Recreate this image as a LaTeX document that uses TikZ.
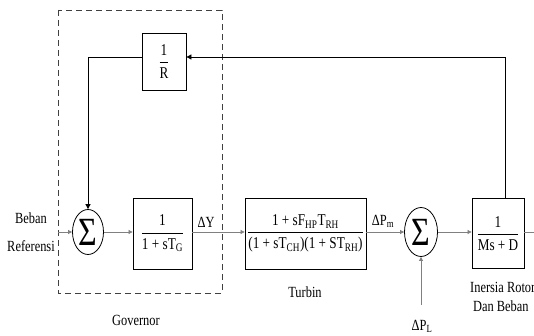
\documentclass[tikz,border=0pt]{standalone}
\usepackage{amsmath}
\usepackage{fontspec}
\setmainfont{Liberation Serif}[FakeStretch=0.8]
\usetikzlibrary{arrows.meta,shapes.geometric}
\tikzset{
  blk/.style={draw=black, line width=0.8pt, rectangle, inner sep=0pt, font=\fontsize{16.5}{18}\selectfont},
  sumn/.style={draw=black, line width=0.8pt, ellipse, inner sep=0pt, font=\fontsize{40}{40}\selectfont},
  sig/.style={draw=gray, line width=0.7pt, -{Triangle[length=4pt,width=4pt]}},
  fbk/.style={draw=black, line width=0.8pt},
  lbl/.style={font=\fontsize{15.5}{17}\selectfont, inner sep=0pt},
  govbox/.style={draw=black!75, line width=0.8pt, dash pattern=on 6pt off 4pt}
}
\newcommand{\frc}[2]{$\dfrac{\text{#1}}{\text{#2}}$}
\begin{document}
\begin{tikzpicture}[x=1pt,y=-1pt]
\useasboundingbox (0,0) rectangle (534,336);
\draw[govbox] (58,10) rectangle (222,293);
\node[blk, minimum width=44pt, minimum height=57pt] (R) at (164,61.5) {\frc{1}{R}};
\node[sumn, minimum width=31pt, minimum height=45pt] (s1) at (88,232) {Σ};
\node[blk, minimum width=59pt, minimum height=71pt] (g) at (162.5,233.5) {\frc{1}{1 + sT\textsubscript{G}}};
\node[blk, minimum width=121pt, minimum height=71pt] (t) at (305.5,233.5) {\frc{1 + sF\textsubscript{HP}T\textsubscript{RH}}{(1 + sT\textsubscript{CH})(1 + ST\textsubscript{RH})}};
\node[sumn, minimum width=33pt, minimum height=49pt] (s2) at (421,232) {Σ};
\node[blk, minimum width=52pt, minimum height=70pt] (m) at (498,233.5) {\frc{1}{Ms + D}};
\coordinate (in) at (58,232);
\coordinate (out) at (534,232);
\coordinate (fa) at (88,57);
\coordinate (fb) at (505,57);
\coordinate (pl) at (421,305);
\draw[sig] (in) -- (s1.west);
\draw[sig] (s1.east) -- (s1.east -| g.west);
\draw[sig] (g.east |- s1) -- (t.west |- s1);
\draw[sig] (t.east |- s2) -- (s2.west);
\draw[sig] (s2.east) -- (m.west |- s2);
\draw[sig, -] (m.east |- s2) -- (out);
\draw[sig] (pl) -- (s2.south);
\draw[fbk, -{Triangle[length=5pt,width=5pt]}] (fb |- m.north) -- (fb) -- (R.east |- fb);
\draw[fbk, -{Triangle[length=5pt,width=5pt]}] (R.west |- fa) -- (fa) -- (s1.north);
\node[lbl] (beban) at (31,218) {Beban};
\node[lbl] (ref) at (31,246) {Referensi};
\node[lbl] (dy) at (206,222) {ΔY};
\node[lbl] (dpm) at (383,221) {ΔP\textsubscript{m}};
\node[lbl] (turb) at (305,292) {Turbin};
\node[lbl] (gov) at (136,320) {Governor};
\node[lbl, anchor=west] (ir) at (470,287) {Inersia Rotor};
\node[lbl, anchor=west] (db) at (473,306) {Dan Beban};
\node[lbl] (dpl) at (422,326) {ΔP\textsubscript{L}};
\end{tikzpicture}
\end{document}
